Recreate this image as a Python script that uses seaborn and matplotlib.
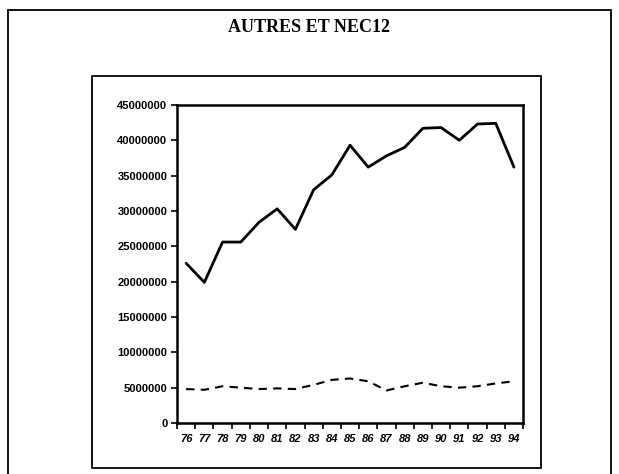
import seaborn as sns
import matplotlib.pyplot as plt
import matplotlib.patches as patches
import numpy as np
import pandas as pd

years = ["76", "77", "78", "79", "80", "81", "82", "83", "84", "85",
         "86", "87", "88", "89", "90", "91", "92", "93", "94"]
total = [22600000, 19900000, 25600000, 25600000, 28400000, 30300000, 27400000,
         33000000, 35100000, 39300000, 36200000, 37800000, 39000000, 41700000,
         41800000, 40000000, 42300000, 42400000, 36200000]
secondary = [4800000, 4700000, 5200000, 5000000, 4800000, 4900000, 4800000,
             5400000, 6100000, 6300000, 5900000, 4600000, 5200000, 5700000,
             5200000, 5000000, 5200000, 5600000, 5900000]
yticks = [0, 5000000, 10000000, 15000000, 20000000, 25000000,
          30000000, 35000000, 40000000, 45000000]

df = pd.DataFrame({"idx": np.arange(len(years)), "total": total, "secondary": secondary})

sns.set_theme(style="white")
plt.rcParams["font.family"] = ["Liberation Sans", "DejaVu Sans"]
plt.rcParams["text.color"] = "black"
plt.rcParams["xtick.color"] = "black"
plt.rcParams["ytick.color"] = "black"

fig = plt.figure(figsize=(6.19, 4.74), dpi=100)
ax = fig.add_axes([0.286, 0.1076, 0.559, 0.671])

sns.lineplot(data=df, x="idx", y="total", ax=ax, color="black", linewidth=2.0)
sns.lineplot(data=df, x="idx", y="secondary", ax=ax, color="black", linewidth=1.5)
ax.lines[1].set_dashes([4, 3])

ax.set_xlim(-0.5, len(years) - 0.5)
ax.set_ylim(0, 45000000)
ax.set_xlabel("")
ax.set_ylabel("")

ax.set_xticks(np.arange(len(years)))
ax.set_xticklabels(years, fontsize=8, fontweight="bold", style="italic")
ax.set_xticks(np.arange(len(years) + 1) - 0.5, minor=True)
ax.tick_params(axis="x", which="major", length=0, pad=8)
ax.tick_params(axis="x", which="minor", length=4, width=1.2, direction="out", color="black", bottom=True)

ax.set_yticks(yticks)
ax.set_yticklabels([str(v) for v in yticks], fontsize=8, fontweight="bold")
ax.tick_params(axis="y", length=4, width=1.2, direction="out", color="black", left=True, pad=3)

for s in ax.spines.values():
    s.set_visible(True)
    s.set_color("black")
    s.set_linewidth(1.8)

# chart frames
fig.patches.append(patches.Rectangle((8 / 619, -0.02), 603 / 619, 1 - 10 / 474 + 0.02,
                                     transform=fig.transFigure, fill=False,
                                     edgecolor="black", linewidth=1.3))
fig.patches.append(patches.Rectangle((92 / 619, 1 - 468 / 474), 449 / 619, 392 / 474,
                                     transform=fig.transFigure, fill=False,
                                     edgecolor="black", linewidth=1.3))

fig.text(0.5, 1 - 27 / 474, "AUTRES ET NEC12", ha="center", va="center", color="black",
         fontsize=13, fontweight="bold", family=["Liberation Serif", "DejaVu Serif"])

fig.savefig("out.png", dpi=100)
